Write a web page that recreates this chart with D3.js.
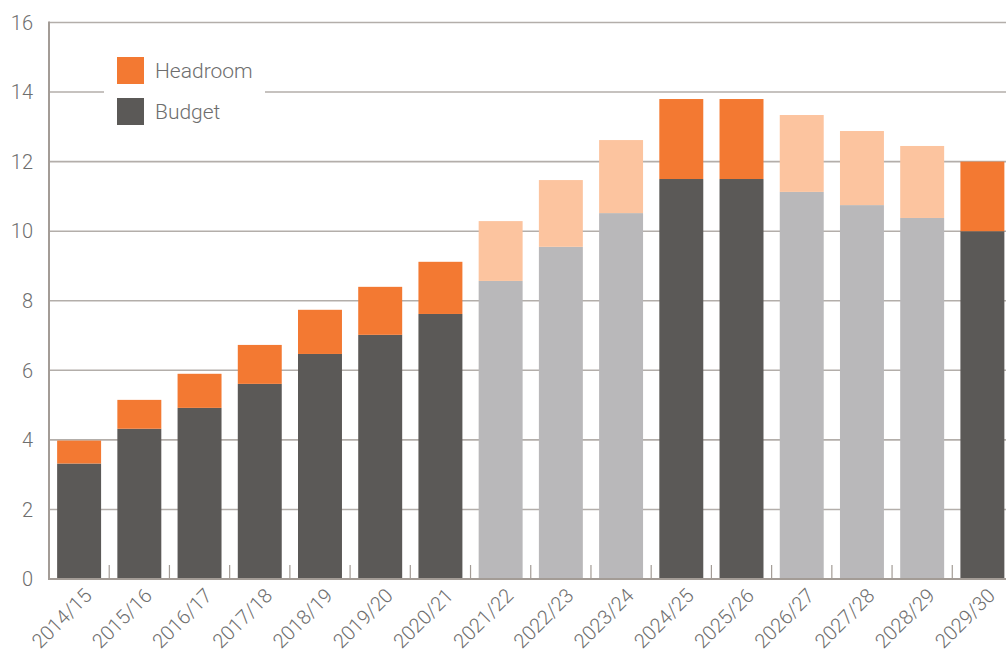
<!DOCTYPE html>
<html>
<head>
<meta charset="utf-8">
<script src="https://cdn.jsdelivr.net/npm/d3@7"></script>
<style>
  html, body { margin: 0; padding: 0; background: #fff; }
  svg { display: block; }
  text { font-family: "Roboto", "Liberation Sans", sans-serif; font-weight: 300; fill: #6e6e6e; }
</style>
</head>
<body>
<svg id="chart" width="1006" height="655"></svg>
<script>
// Financial years shown along the x axis
const years = ["2014/15", "2015/16", "2016/17", "2017/18", "2018/19", "2019/20", "2020/21",
  "2021/22", "2022/23", "2023/24", "2024/25", "2025/26", "2026/27", "2027/28", "2028/29", "2029/30"];

// Budget (lower segment) and headroom (upper segment) for each year
const budget = [3.32, 4.32, 4.92, 5.61, 6.47, 7.02, 7.62, 8.57, 9.55, 10.52, 11.5, 11.5, 11.13, 10.75, 10.38, 10.0];
const headroom = [0.66, 0.83, 0.98, 1.12, 1.27, 1.38, 1.50, 1.72, 1.92, 2.10, 2.30, 2.30, 2.21, 2.13, 2.07, 2.0];

// Years drawn in the lighter, indicative shades
const indicative = [false, false, false, false, false, false, false,
  true, true, true, false, false, true, true, true, false];

const yTicks = [0, 2, 4, 6, 8, 10, 12, 14, 16];
const legendItems = ["Headroom", "Budget"];

const colors = {
  budget: "#5b5957", headroom: "#f37932",
  budgetLight: "#b9b8ba", headroomLight: "#fcc49f",
  axis: "#a39c96", grid: "#b3aeaa"
};

const svg = d3.select("#chart");
const plotLeft = 49, plotTop = 22.5, plotBottom = 579, plotRight = 1012.5;

const x = d3.scaleBand().domain(years).range([plotLeft, plotRight]).paddingInner(0.27).paddingOuter(0.135);
const y = d3.scaleLinear().domain([0, 16]).range([plotBottom, plotTop]);

// Horizontal gridlines
svg.append("g").selectAll("line").data(yTicks.filter(d => d > 0)).join("line")
  .attr("x1", plotLeft).attr("x2", 1006)
  .attr("y1", d => y(d)).attr("y2", d => y(d))
  .attr("stroke", colors.grid).attr("stroke-width", 1.6);

// Stacked bars
const rows = years.map((yr, i) => ({ yr, b: budget[i], h: headroom[i], light: indicative[i] }));
const bars = svg.append("g");
bars.selectAll("rect.budget").data(rows).join("rect")
  .attr("class", "budget")
  .attr("x", d => x(d.yr)).attr("width", x.bandwidth())
  .attr("y", d => y(d.b)).attr("height", d => y(0) - y(d.b))
  .attr("fill", d => d.light ? colors.budgetLight : colors.budget);
bars.selectAll("rect.headroom").data(rows).join("rect")
  .attr("class", "headroom")
  .attr("x", d => x(d.yr)).attr("width", x.bandwidth())
  .attr("y", d => y(d.b + d.h)).attr("height", d => y(d.b) - y(d.b + d.h))
  .attr("fill", d => d.light ? colors.headroomLight : colors.headroom);

// Category separators rising from the baseline
const step = x.step();
svg.append("g").selectAll("line").data(years.slice(1)).join("line")
  .attr("x1", d => x(d) - x.paddingInner() * step / 2)
  .attr("x2", d => x(d) - x.paddingInner() * step / 2)
  .attr("y1", plotBottom - 14).attr("y2", plotBottom)
  .attr("stroke", colors.axis).attr("stroke-width", 1.2);

// Axis lines
svg.append("line").attr("x1", plotLeft).attr("x2", 1006).attr("y1", plotBottom).attr("y2", plotBottom)
  .attr("stroke", colors.axis).attr("stroke-width", 2);
svg.append("line").attr("x1", plotLeft).attr("x2", plotLeft).attr("y1", plotTop - 1).attr("y2", plotBottom + 1)
  .attr("stroke", colors.axis).attr("stroke-width", 2);

// Y tick labels
svg.append("g").selectAll("text").data(yTicks).join("text")
  .attr("x", 33).attr("y", d => y(d))
  .attr("dy", "0.36em")
  .attr("text-anchor", "end")
  .style("font-size", "20px")
  .text(d => d);

// X tick labels, rotated
svg.append("g").selectAll("text").data(years).join("text")
  .attr("transform", d => `translate(${x(d) + x.bandwidth() / 2 + 4},${plotBottom + 8}) rotate(-45)`)
  .attr("text-anchor", "end")
  .attr("dy", "0.7em")
  .style("font-size", "20px")
  .text(d => d);

// Legend on a white panel
const legend = svg.append("g");
legend.append("rect").attr("x", 104).attr("y", 45).attr("width", 161).attr("height", 92).attr("fill", "#fff");
const legendColors = [colors.headroom, colors.budget];
legend.selectAll("rect.key").data(legendItems).join("rect")
  .attr("class", "key")
  .attr("x", 117).attr("y", (d, i) => 57 + i * 41)
  .attr("width", 27).attr("height", 27)
  .attr("fill", (d, i) => legendColors[i]);
legend.selectAll("text").data(legendItems).join("text")
  .attr("x", 155).attr("y", (d, i) => 70.5 + i * 41)
  .attr("dy", "0.36em")
  .style("font-size", "21px")
  .text(d => d);
</script>
</body>
</html>
